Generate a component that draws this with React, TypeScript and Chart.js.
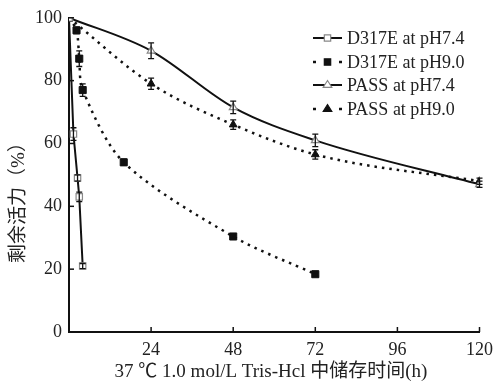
import React, { useEffect, useRef } from "react";
import { Chart, registerables } from "chart.js";

Chart.register(...registerables);

// ---- data ----
const hoursD74 = [0, 1.3, 2.5, 3, 4];
const actD74 = [100, 63, 49, 43, 21];
const errD74 = [0, 2, 1, 1.5, 0.8];

const hoursD90 = [0, 2.2, 3, 4, 16, 48, 72];
const actD90 = [100, 96, 87, 77, 54, 30.4, 18.4];
const errD90 = [0, 1, 2.5, 2, 1, 0.5, 0.5];

const hoursPASS = [0, 24, 48, 72, 120];
const actP74 = [100, 89.5, 71.5, 61, 47];
const errP74 = [0, 2.5, 2, 2, 1];
const actP90 = [100, 79, 66, 56.5, 48];
const errP90 = [0, 1.8, 1.5, 1.5, 1];

const seriesLabels = ["D317E at pH7.4", "D317E at pH9.0", "PASS at pH7.4", "PASS at pH9.0"];
const xTicks = [24, 48, 72, 96, 120];
const yTicks = [20, 40, 60, 80, 100];
const xTitle = "37 ℃ 1.0 mol/L Tris-Hcl 中储存时间(h)";
const yTitle = "剩余活力（%）";

const SERIF = "'Liberation Serif', 'Noto Sans CJK SC', serif";

const toPts = (xs: number[], ys: number[]) => xs.map((x, i) => ({ x, y: ys[i] }));

function drawMarker(ctx: CanvasRenderingContext2D, style: string, x: number, y: number, r: number, fill: string, stroke: string) {
  ctx.save();
  ctx.beginPath();
  if (style === "rect") {
    const s = r * Math.SQRT1_2;
    ctx.rect(x - s, y - s, 2 * s, 2 * s);
  } else {
    const h = r * 1.5;
    ctx.moveTo(x, y - h * 0.66);
    ctx.lineTo(x + r * 0.95, y + h * 0.34);
    ctx.lineTo(x - r * 0.95, y + h * 0.34);
    ctx.closePath();
  }
  ctx.fillStyle = fill;
  ctx.fill();
  ctx.lineWidth = 1.2;
  ctx.strokeStyle = stroke;
  ctx.stroke();
  ctx.restore();
}

const extrasPlugin = {
  id: "extras",
  afterDatasetsDraw(chart: any) {
    const ctx: CanvasRenderingContext2D = chart.ctx;
    const xs = chart.scales.x;
    const ys = chart.scales.y;
    // error bars
    chart.data.datasets.forEach((ds: any) => {
      if (!ds.errors) return;
      ctx.save();
      ctx.strokeStyle = "#111";
      ctx.lineWidth = 1.3;
      ds.data.forEach((p: any, i: number) => {
        const e = ds.errors[i];
        if (!e) return;
        const px = xs.getPixelForValue(p.x);
        const y1 = ys.getPixelForValue(p.y + e);
        const y2 = ys.getPixelForValue(p.y - e);
        ctx.beginPath();
        ctx.moveTo(px, y1);
        ctx.lineTo(px, y2);
        ctx.moveTo(px - 3, y1);
        ctx.lineTo(px + 3, y1);
        ctx.moveTo(px - 3, y2);
        ctx.lineTo(px + 3, y2);
        ctx.stroke();
      });
      ctx.restore();
    });
  },
  afterDraw(chart: any) {
    const ctx: CanvasRenderingContext2D = chart.ctx;
    const xs = chart.scales.x;
    const ys = chart.scales.y;
    const area = chart.chartArea;
    ctx.save();
    // inward ticks
    ctx.strokeStyle = "#111";
    ctx.lineWidth = 1.5;
    xTicks.forEach((v) => {
      const px = xs.getPixelForValue(v);
      ctx.beginPath();
      ctx.moveTo(px, area.bottom);
      ctx.lineTo(px, area.bottom - 5);
      ctx.stroke();
    });
    yTicks.forEach((v) => {
      const py = ys.getPixelForValue(v);
      ctx.beginPath();
      ctx.moveTo(area.left, py);
      ctx.lineTo(area.left + 5, py);
      ctx.stroke();
    });
    // titles
    ctx.fillStyle = "#222";
    ctx.font = `19px ${SERIF}`;
    ctx.textAlign = "center";
    ctx.textBaseline = "middle";
    ctx.fillText(xTitle, 271, 372);
    ctx.save();
    ctx.translate(19, 198);
    ctx.rotate(-Math.PI / 2);
    ctx.fillText(yTitle, 0, 0);
    ctx.restore();
    // legend
    const rows = [38, 62, 85, 109];
    chart.data.datasets.forEach((ds: any, i: number) => {
      const y = rows[i];
      const x0 = 313, x1 = 342, xm = (x0 + x1) / 2;
      ctx.save();
      ctx.strokeStyle = "#111";
      if (ds.borderDash && ds.borderDash.length) {
        ctx.lineWidth = 2.5;
        ctx.beginPath();
        ctx.moveTo(x0, y);
        ctx.lineTo(x0 + 3, y);
        ctx.moveTo(x1 - 3, y);
        ctx.lineTo(x1, y);
        ctx.stroke();
      } else {
        ctx.lineWidth = 2;
        ctx.beginPath();
        ctx.moveTo(x0, y);
        ctx.lineTo(x1, y);
        ctx.stroke();
      }
      ctx.restore();
      drawMarker(ctx, ds.pointStyle, xm, y, 4.5, ds.pointBackgroundColor, ds.pointBorderColor);
      ctx.fillStyle = "#222";
      ctx.font = `18px ${SERIF}`;
      ctx.textAlign = "left";
      ctx.textBaseline = "middle";
      ctx.fillText(ds.label, 347, y + 1);
    });
    ctx.restore();
  },
};

export default function App() {
  const canvasRef = useRef<HTMLCanvasElement | null>(null);

  useEffect(() => {
    if (!canvasRef.current) return;
    const dotted = [2.5, 5];
    const chart = new Chart(canvasRef.current, {
      type: "line",
      data: {
        datasets: [
          {
            label: seriesLabels[0],
            data: toPts(hoursD74, actD74),
            errors: errD74,
            borderColor: "#111",
            borderWidth: 2,
            tension: 0,
            pointStyle: "rect",
            pointRadius: 4.5,
            pointBackgroundColor: "#fff",
            pointBorderColor: "#888",
            pointBorderWidth: 1.2,
          } as any,
          {
            label: seriesLabels[1],
            data: toPts(hoursD90, actD90),
            errors: errD90,
            borderColor: "#111",
            borderWidth: 2.5,
            borderDash: dotted,
            tension: 0.3,
            pointStyle: "rect",
            pointRadius: 5,
            pointBackgroundColor: "#111",
            pointBorderColor: "#111",
            pointBorderWidth: 1,
          } as any,
          {
            label: seriesLabels[2],
            data: toPts(hoursPASS, actP74),
            errors: errP74,
            borderColor: "#111",
            borderWidth: 2,
            cubicInterpolationMode: "monotone",
            pointStyle: "triangle",
            pointRadius: 4.5,
            pointBackgroundColor: "#fff",
            pointBorderColor: "#888",
            pointBorderWidth: 1.2,
          } as any,
          {
            label: seriesLabels[3],
            data: toPts(hoursPASS, actP90),
            errors: errP90,
            borderColor: "#111",
            borderWidth: 2.5,
            borderDash: dotted,
            cubicInterpolationMode: "monotone",
            pointStyle: "triangle",
            pointRadius: 4.5,
            pointBackgroundColor: "#111",
            pointBorderColor: "#111",
            pointBorderWidth: 1,
          } as any,
        ],
      },
      options: {
        animation: false,
        responsive: false,
        devicePixelRatio: 1,
        layout: { padding: { top: 15, right: 18, left: 0, bottom: 0 } },
        plugins: { legend: { display: false }, tooltip: { enabled: false } },
        scales: {
          x: {
            type: "linear",
            min: 0,
            max: 120,
            afterFit: (s: any) => { s.height = 53; },
            afterBuildTicks: (s: any) => { s.ticks = [0, ...xTicks].map((v) => ({ value: v })); },
            ticks: {
              padding: 7,
              color: "#222",
              font: { family: SERIF, size: 18 },
              callback: (v: any) => (v === 0 ? "" : String(v)),
            },
            grid: { display: false, drawTicks: false },
            border: { color: "#111", width: 2 },
          },
          y: {
            type: "linear",
            min: 0,
            max: 100,
            afterFit: (s: any) => { s.width = 69; },
            afterBuildTicks: (s: any) => { s.ticks = [0, ...yTicks].map((v) => ({ value: v })); },
            ticks: {
              padding: 7,
              color: "#222",
              font: { family: SERIF, size: 18 },
            },
            grid: { display: false, drawTicks: false },
            border: { color: "#111", width: 2 },
          },
        },
      } as any,
      plugins: [extrasPlugin],
    });
    return () => chart.destroy();
  }, []);

  return (
    <div style={{ position: "fixed", left: 0, top: 0, width: 500, height: 385, background: "#fff" }}>
      <canvas ref={canvasRef} width={500} height={385} />
    </div>
  );
}
